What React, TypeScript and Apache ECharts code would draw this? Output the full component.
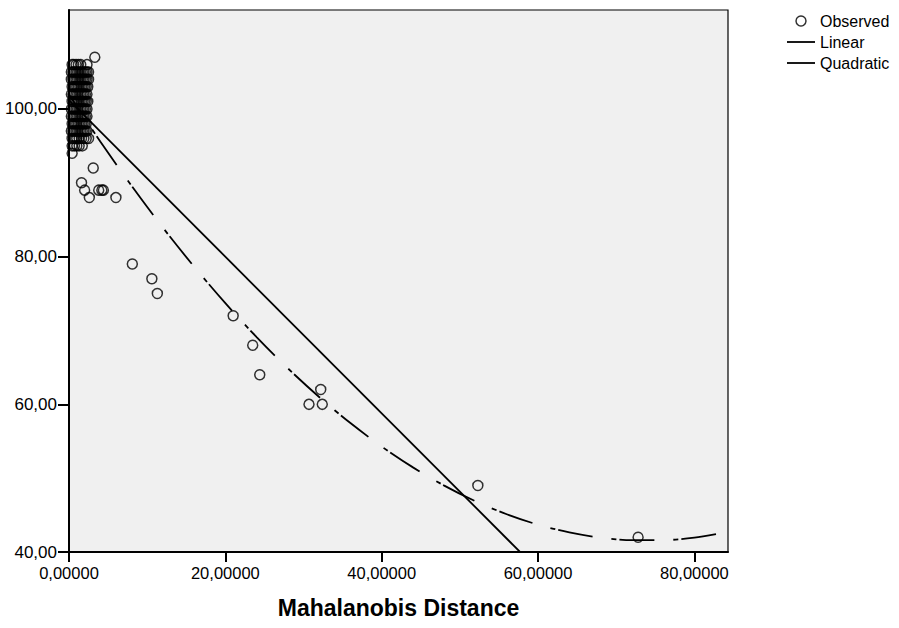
import React, { useEffect, useRef } from "react";
import * as echarts from "echarts";

// Observed points: dense cluster near the origin (x = Mahalanobis distance, y = value)
const clusterPoints: [number, number][] = [
  [0.4, 106], [0.6, 106], [0.9, 106], [1.2, 106], [1.5, 106], [2.3, 106],
  [0.3, 105], [0.5, 105], [0.7, 105], [0.9, 105], [1.1, 105], [1.3, 105], [1.5, 105], [1.7, 105], [1.9, 105], [2.1, 105], [2.3, 105], [2.5, 105],
  [0.3, 104], [0.5, 104], [0.7, 104], [0.9, 104], [1.1, 104], [1.3, 104], [1.5, 104], [1.7, 104], [1.9, 104], [2.1, 104], [2.3, 104], [2.5, 104],
  [0.4, 103], [0.6, 103], [0.8, 103], [1.0, 103], [1.2, 103], [1.4, 103], [1.6, 103], [1.8, 103], [2.0, 103], [2.2, 103], [2.4, 103],
  [0.3, 102], [0.5, 102], [0.7, 102], [0.9, 102], [1.1, 102], [1.3, 102], [1.5, 102], [1.7, 102], [1.9, 102], [2.1, 102], [2.3, 102],
  [0.4, 101], [0.6, 101], [0.8, 101], [1.0, 101], [1.2, 101], [1.4, 101], [1.6, 101], [1.8, 101], [2.0, 101], [2.2, 101], [2.4, 101],
  [0.3, 100], [0.5, 100], [0.7, 100], [0.9, 100], [1.1, 100], [1.3, 100], [1.5, 100], [1.7, 100], [1.9, 100], [2.1, 100], [2.3, 100],
  [0.3, 99], [0.5, 99], [0.7, 99], [0.9, 99], [1.1, 99], [1.3, 99], [1.5, 99], [1.7, 99], [1.9, 99], [2.1, 99], [2.3, 99],
  [0.4, 98], [0.6, 98], [0.8, 98], [1.0, 98], [1.2, 98], [1.4, 98], [1.6, 98], [1.8, 98], [2.0, 98], [2.2, 98],
  [0.3, 97], [0.5, 97], [0.7, 97], [0.9, 97], [1.1, 97], [1.3, 97], [1.5, 97], [1.7, 97], [1.9, 97], [2.1, 97], [2.3, 97],
  [0.4, 96], [0.6, 96], [0.8, 96], [1.0, 96], [1.3, 96], [1.6, 96], [1.9, 96], [2.2, 96], [2.5, 96],
  [0.4, 95], [0.7, 95], [1.0, 95], [1.3, 95], [1.7, 95],
  [0.4, 94],
];

// Observed points away from the cluster
const outlierPoints: [number, number][] = [
  [3.3, 107], [3.1, 92], [1.6, 90], [2.0, 89], [2.6, 88],
  [3.8, 89], [4.2, 89], [4.4, 89], [6.0, 88],
  [8.1, 79], [10.6, 77], [11.3, 75],
  [21.0, 72], [23.5, 68], [24.4, 64],
  [30.7, 60], [32.2, 62], [32.4, 60],
  [52.3, 49], [72.8, 42],
];

// Linear fit line, read at its two ends (clipped by the plot)
const linearFit: [number, number][] = [
  [0, 101.2], [84.3, 11.8],
];

// Quadratic fit curve
const quadraticFit: [number, number][] = [
  [0, 101.96], [4, 95.6], [8, 89.6], [12, 83.94], [16, 78.65], [20, 73.7],
  [24, 69.11], [28, 64.87], [32, 60.99], [36, 57.46], [40, 54.28], [44, 51.46],
  [48, 48.99], [52, 46.87], [56, 45.11], [60, 43.7], [64, 42.65], [68, 41.94],
  [72, 41.6], [76, 41.6], [80, 41.96], [84.3, 42.73],
];

const xTicks = [0, 20, 40, 60, 80];
const yTicks = [40, 60, 80, 100];

const FONT = "'Liberation Sans', Arial, sans-serif";

export default function App() {
  const ref = useRef<HTMLDivElement>(null);

  useEffect(() => {
    if (!ref.current) return;
    const chart = echarts.init(ref.current, undefined, { renderer: "svg" });
    const observed = [...clusterPoints, ...outlierPoints];
    chart.setOption({
      animation: false,
      backgroundColor: "#ffffff",
      textStyle: { fontFamily: FONT, color: "#000" },
      grid: {
        left: 69,
        top: 10,
        width: 659,
        height: 542,
        show: true,
        backgroundColor: "#f0f0f0",
        borderColor: "#000",
        borderWidth: 1.2,
        containLabel: false,
        outerBoundsMode: "none",
      },
      legend: {
        orient: "vertical",
        left: 787,
        top: 13,
        padding: 0,
        itemWidth: 28,
        itemHeight: 10,
        itemGap: 5,
        selectedMode: false,
        textStyle: { fontSize: 16, fontFamily: FONT, color: "#000", lineHeight: 16 },
        data: [
          {
            name: "Observed",
            icon: "circle",
            itemStyle: { color: "transparent", borderColor: "#000", borderWidth: 1.5 },
          },
          {
            name: "Linear",
            icon: "path://M0 0H28V1.8H0Z",
            itemStyle: { color: "#000", borderWidth: 0 },
          },
          {
            name: "Quadratic",
            icon: "path://M0 0H28V1.8H0Z",
            itemStyle: { color: "#000", borderWidth: 0 },
          },
        ],
      },
      xAxis: {
        type: "value",
        min: 0,
        max: 84.3,
        name: "Mahalanobis Distance",
        nameLocation: "middle",
        nameGap: 44,
        nameTextStyle: { fontSize: 23, fontWeight: "bold", fontFamily: FONT, color: "#000" },
        axisLine: { show: true, onZero: false, lineStyle: { color: "#000", width: 2 } },
        axisTick: { show: true, length: 10, customValues: xTicks, lineStyle: { color: "#000", width: 2 } },
        axisLabel: {
          customValues: xTicks,
          fontSize: 16.5,
          fontFamily: FONT,
          color: "#000",
          margin: 12,
          formatter: (v: number) => v.toFixed(5).replace(".", ","),
        },
        splitLine: { show: false },
      },
      yAxis: {
        type: "value",
        min: 40,
        max: 113.4,
        axisLine: { show: true, onZero: false, lineStyle: { color: "#000", width: 2 } },
        axisTick: { show: true, length: 11, customValues: yTicks, lineStyle: { color: "#000", width: 2 } },
        axisLabel: {
          customValues: yTicks,
          fontSize: 17,
          fontFamily: FONT,
          color: "#000",
          margin: 12,
          formatter: (v: number) => v.toFixed(2).replace(".", ","),
        },
        splitLine: { show: false },
      },
      series: [
        {
          name: "Linear",
          type: "line",
          data: linearFit,
          symbol: "none",
          clip: true,
          lineStyle: { color: "#000", width: 1.8, type: "solid" },
          itemStyle: { color: "#000" },
          z: 2,
        },
        {
          name: "Quadratic",
          type: "line",
          data: quadraticFit,
          symbol: "none",
          smooth: 0.3,
          clip: true,
          lineStyle: { color: "#000", width: 1.8, type: [35, 19, 5, 3], dashOffset: 12 },
          itemStyle: { color: "#000" },
          z: 2,
        },
        {
          name: "Observed",
          type: "scatter",
          data: observed,
          symbol: "circle",
          symbolSize: 10,
          itemStyle: { color: "transparent", borderColor: "#000", borderWidth: 1.5 },
          z: 3,
        },
      ],
    });
    return () => chart.dispose();
  }, []);

  return (
    <div
      ref={ref}
      style={{ position: "fixed", left: 0, top: 0, width: 899, height: 628 }}
    />
  );
}
